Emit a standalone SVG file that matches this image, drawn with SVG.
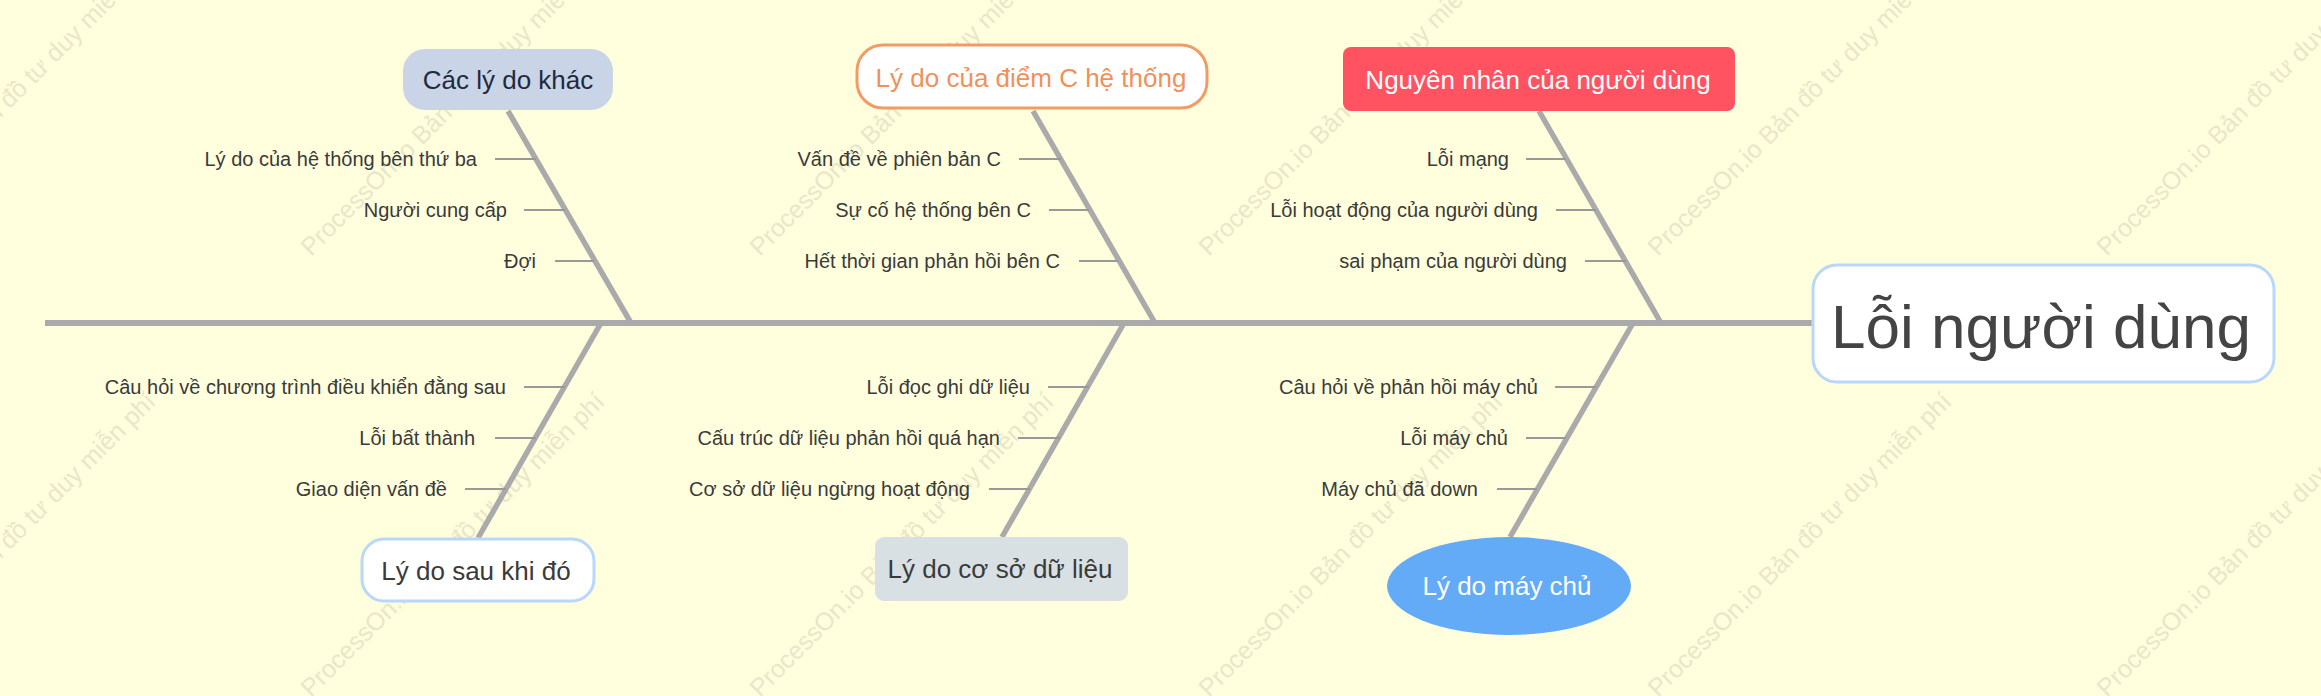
<svg xmlns="http://www.w3.org/2000/svg" width="2321" height="696" viewBox="0 0 2321 696">
<defs>
<style>
.wm{font-family:"Liberation Sans",Arial,sans-serif;font-size:25px;fill:#e9e6c9}
.bone{stroke:#aaaaaa;stroke-width:5.5;stroke-linecap:butt;fill:none}
.spine{stroke:#aaaaaa;stroke-width:6;fill:none}
.tick{stroke:#999999;stroke-width:2;fill:none}
.sub{font-family:"Liberation Sans",Arial,sans-serif;font-size:20px;fill:#3a3a3a;text-anchor:end}
.cat{font-family:"Liberation Sans",Arial,sans-serif;font-size:26px;text-anchor:middle}
.head{font-family:"Liberation Sans",Arial,sans-serif;font-size:62px;text-anchor:middle;fill:#444444}
</style>
</defs>
<rect x="0" y="0" width="2321" height="696" fill="#ffffdd"/>
<g id="watermarks">
<text class="wm" transform="translate(2107,257) rotate(-45)">ProcessOn.io Bản đồ tư duy miễn phí</text>
<text class="wm" transform="translate(1658,257) rotate(-45)">ProcessOn.io Bản đồ tư duy miễn phí</text>
<text class="wm" transform="translate(1209,257) rotate(-45)">ProcessOn.io Bản đồ tư duy miễn phí</text>
<text class="wm" transform="translate(760,257) rotate(-45)">ProcessOn.io Bản đồ tư duy miễn phí</text>
<text class="wm" transform="translate(311,257) rotate(-45)">ProcessOn.io Bản đồ tư duy miễn phí</text>
<text class="wm" transform="translate(-138,257) rotate(-45)">ProcessOn.io Bản đồ tư duy miễn phí</text>
<text class="wm" transform="translate(2107,698) rotate(-45)">ProcessOn.io Bản đồ tư duy miễn phí</text>
<text class="wm" transform="translate(1658,698) rotate(-45)">ProcessOn.io Bản đồ tư duy miễn phí</text>
<text class="wm" transform="translate(1209,698) rotate(-45)">ProcessOn.io Bản đồ tư duy miễn phí</text>
<text class="wm" transform="translate(760,698) rotate(-45)">ProcessOn.io Bản đồ tư duy miễn phí</text>
<text class="wm" transform="translate(311,698) rotate(-45)">ProcessOn.io Bản đồ tư duy miễn phí</text>
<text class="wm" transform="translate(-138,698) rotate(-45)">ProcessOn.io Bản đồ tư duy miễn phí</text>
</g>
<g id="connectors">
<line class="spine" x1="45" y1="323" x2="1813" y2="323"/>
<line class="bone" x1="508" y1="111" x2="631" y2="323"/>
<line class="bone" x1="1033" y1="111" x2="1155" y2="323"/>
<line class="bone" x1="1539" y1="111" x2="1661" y2="323"/>
<line class="bone" x1="601" y1="323" x2="478" y2="538"/>
<line class="bone" x1="1124" y1="323" x2="1002" y2="537"/>
<line class="bone" x1="1633" y1="323" x2="1510" y2="537"/>
<line class="tick" x1="495" y1="159" x2="536" y2="159"/>
<line class="tick" x1="524" y1="210" x2="565" y2="210"/>
<line class="tick" x1="555" y1="261" x2="594" y2="261"/>
<line class="tick" x1="1019" y1="159" x2="1061" y2="159"/>
<line class="tick" x1="1049" y1="210" x2="1089" y2="210"/>
<line class="tick" x1="1079" y1="261" x2="1118" y2="261"/>
<line class="tick" x1="1526" y1="159" x2="1566" y2="159"/>
<line class="tick" x1="1556" y1="210" x2="1596" y2="210"/>
<line class="tick" x1="1585" y1="261" x2="1626" y2="261"/>
<line class="tick" x1="524" y1="387" x2="565" y2="387"/>
<line class="tick" x1="495" y1="438" x2="536" y2="438"/>
<line class="tick" x1="465" y1="489" x2="506" y2="489"/>
<line class="tick" x1="1048" y1="387" x2="1089" y2="387"/>
<line class="tick" x1="1018" y1="438" x2="1060" y2="438"/>
<line class="tick" x1="989" y1="489" x2="1030" y2="489"/>
<line class="tick" x1="1555" y1="387" x2="1596" y2="387"/>
<line class="tick" x1="1526" y1="438" x2="1566" y2="438"/>
<line class="tick" x1="1497" y1="489" x2="1537" y2="489"/>
</g>
<g id="head">
<rect x="1813" y="265" width="461" height="117" rx="24" fill="#ffffff" stroke="#b8d7fa" stroke-width="3"/>
<text class="head" x="2041" y="348">Lỗi người dùng</text>
</g>
<g id="cat-other">
<rect x="403" y="49" width="210" height="61" rx="22" fill="#c9d4e7"/>
<text class="cat" x="508" y="89" fill="#1f2a40">Các lý do khác</text>
</g>
<g id="cat-other-items">
<text class="sub" x="477" y="166">Lý do của hệ thống bên thứ ba</text>
<text class="sub" x="507" y="217">Người cung cấp</text>
<text class="sub" x="536" y="268">Đợi</text>
</g>
<g id="cat-csystem">
<rect x="857" y="45" width="350" height="63" rx="26" fill="#ffffff" stroke="#f29b67" stroke-width="3"/>
<text class="cat" x="1031" y="87" fill="#f0915a">Lý do của điểm C hệ thống</text>
</g>
<g id="cat-csystem-items">
<text class="sub" x="1001" y="166">Vấn đề về phiên bản C</text>
<text class="sub" x="1031" y="217">Sự cố hệ thống bên C</text>
<text class="sub" x="1060" y="268">Hết thời gian phản hồi bên C</text>
</g>
<g id="cat-user">
<rect x="1343" y="47" width="392" height="64" rx="8" fill="#ff5361"/>
<text class="cat" x="1538" y="89" fill="#ffffff">Nguyên nhân của người dùng</text>
</g>
<g id="cat-user-items">
<text class="sub" x="1509" y="166">Lỗi mạng</text>
<text class="sub" x="1538" y="217">Lỗi hoạt động của người dùng</text>
<text class="sub" x="1567" y="268">sai phạm của người dùng</text>
</g>
<g id="cat-after">
<rect x="362" y="539" width="232" height="62" rx="22" fill="#ffffff" stroke="#b8d7fa" stroke-width="3"/>
<text class="cat" x="476" y="580" fill="#3a3a3a">Lý do sau khi đó</text>
</g>
<g id="cat-after-items">
<text class="sub" x="506" y="394">Câu hỏi về chương trình điều khiển đằng sau</text>
<text class="sub" x="475" y="445">Lỗi bất thành</text>
<text class="sub" x="447" y="496">Giao diện vấn đề</text>
</g>
<g id="cat-db">
<rect x="875" y="537" width="253" height="64" rx="9" fill="#d8e0e3"/>
<text class="cat" x="1000" y="578" fill="#3a3a3a">Lý do cơ sở dữ liệu</text>
</g>
<g id="cat-db-items">
<text class="sub" x="1030" y="394">Lỗi đọc ghi dữ liệu</text>
<text class="sub" x="1000" y="445">Cấu trúc dữ liệu phản hồi quá hạn</text>
<text class="sub" x="970" y="496">Cơ sở dữ liệu ngừng hoạt động</text>
</g>
<g id="cat-server">
<ellipse cx="1509" cy="586" rx="122" ry="49" fill="#63abf6"/>
<text class="cat" x="1507" y="595" fill="#ffffff">Lý do máy chủ</text>
</g>
<g id="cat-server-items">
<text class="sub" x="1538" y="394">Câu hỏi về phản hồi máy chủ</text>
<text class="sub" x="1508" y="445">Lỗi máy chủ</text>
<text class="sub" x="1478" y="496">Máy chủ đã down</text>
</g>
</svg>
